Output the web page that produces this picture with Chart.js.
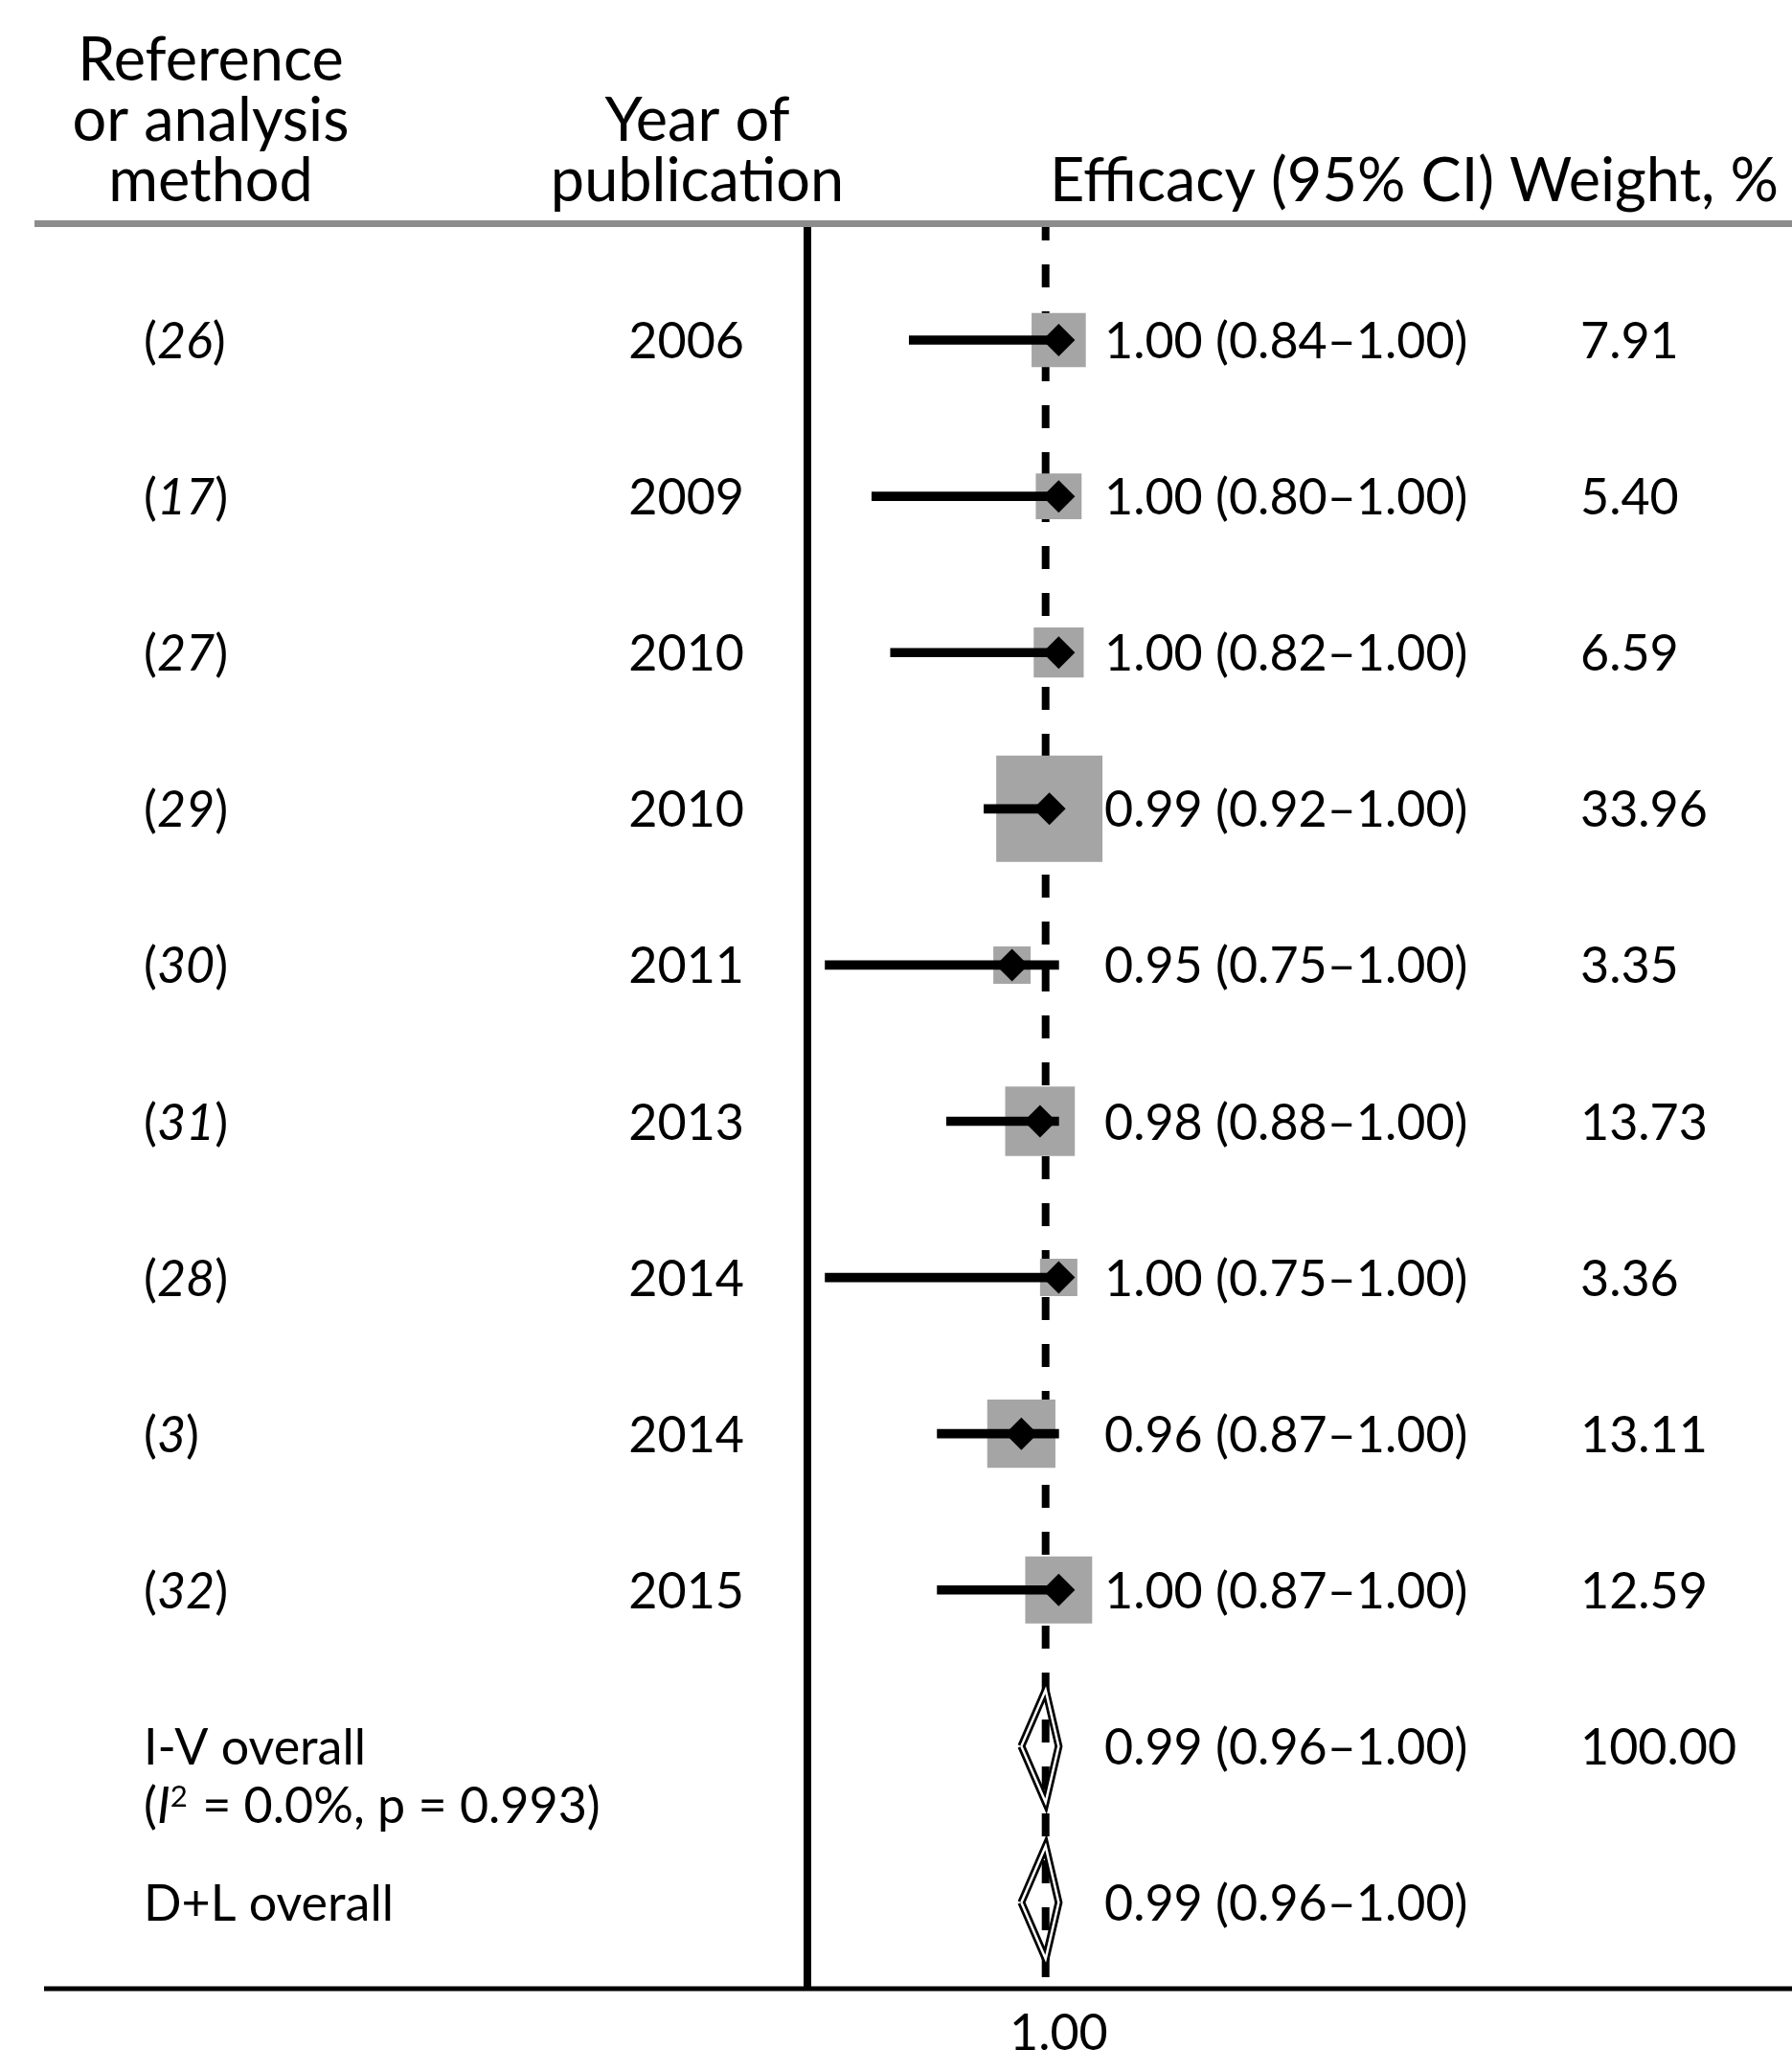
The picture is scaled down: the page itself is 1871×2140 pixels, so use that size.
<!DOCTYPE html>
<html>
<head>
<meta charset="utf-8">
<script src="https://cdn.jsdelivr.net/npm/chart.js@4.4.1/dist/chart.umd.min.js"></script>
<style>
html, body { margin: 0; padding: 0; background: #ffffff; }
#wrap { width: 1871px; height: 2140px; position: relative; }
</style>
</head>
<body>
<div id="wrap"><canvas id="c"></canvas></div>
<script>
// ---------------- data ----------------
const refNumbers   = ['26', '17', '27', '29', '30', '31', '28', '3', '32'];
const pubYears     = ['2006', '2009', '2010', '2010', '2011', '2013', '2014', '2014', '2015'];
const efficacy     = [1.00, 1.00, 1.00, 0.99, 0.95, 0.98, 1.00, 0.96, 1.00];
const ciLower      = [0.84, 0.80, 0.82, 0.92, 0.75, 0.88, 0.75, 0.87, 0.87];
const ciUpper      = [1.00, 1.00, 1.00, 1.00, 1.00, 1.00, 1.00, 1.00, 1.00];
const weightPct    = [7.91, 5.40, 6.59, 33.96, 3.35, 13.73, 3.36, 13.11, 12.59];
const pooledMethods  = ['I-V overall', 'D+L overall'];
const pooledEfficacy = [0.986, 0.986];
const pooledLower    = [0.96, 0.96];
const pooledUpper    = [1.00, 1.00];
const pooledWeight   = [100.00, null];
const heteroI2 = 0.0;
const heteroP  = 0.993;
const xTickValues = [1.00];
const headerRef    = ['Reference', 'or analysis', 'method'];
const headerYear   = ['Year of', 'publication'];
const headerEff    = 'Efficacy (95% CI)';
const headerWeight = 'Weight, %';

// ---------------- styling constants ----------------
const FONT = 'Lato';
const ROW_SIZE = 52;
const HDR_SIZE = 63;
const X_MIN = 0.731, X_MAX = 1.785;
const Y_MIN = -0.736, Y_MAX = 10.552;
const DIAMOND_HALF = 0.36;            // half-height of pooled diamonds (row units)
const boxSide = w => 6 + 18 * Math.sqrt(w);   // weight box side in px
const nStudies = efficacy.length;
const pooledRow = j => nStudies + j;

// ---------------- datasets ----------------
const datasets = [];
// dashed line at pooled estimate
datasets.push({
  type: 'scatter', showLine: true,
  data: [{ x: pooledEfficacy[0], y: Y_MIN }, { x: pooledEfficacy[0], y: Y_MAX }],
  borderColor: '#000', borderWidth: 8, borderDash: [24, 25], borderDashOffset: 8,
  borderCapStyle: 'butt', pointRadius: 0, order: 10
});
// weight boxes
datasets.push({
  type: 'scatter',
  data: efficacy.map((e, i) => ({ x: e, y: i })),
  pointStyle: 'rect',
  pointRadius: c => boxSide(weightPct[c.dataIndex]) / Math.SQRT2,
  backgroundColor: '#a5a5a5', borderWidth: 0, order: 5
});
// confidence intervals
datasets.push({
  type: 'bar', indexAxis: 'y',
  data: efficacy.map((e, i) => ({ x: [ciLower[i], ciUpper[i]], y: i })),
  backgroundColor: '#000', borderWidth: 0, barThickness: 9, order: 3
});
// point estimates
datasets.push({
  type: 'scatter',
  data: efficacy.map((e, i) => ({ x: e, y: i })),
  pointStyle: 'rectRot', pointRadius: 17,
  backgroundColor: '#000', borderWidth: 0, order: 1
});
// pooled diamonds
pooledMethods.forEach((m, j) => {
  const r = pooledRow(j);
  const poly = [
    { x: pooledLower[j], y: r },
    { x: pooledEfficacy[j], y: r - DIAMOND_HALF },
    { x: pooledUpper[j], y: r },
    { x: pooledEfficacy[j], y: r + DIAMOND_HALF },
    { x: pooledLower[j], y: r }
  ];
  datasets.push({ type: 'scatter', showLine: true, data: poly, borderColor: '#000',
    borderWidth: 8, borderJoinStyle: 'miter', pointRadius: 0, order: 2 });
  datasets.push({ type: 'scatter', showLine: true, data: poly, borderColor: '#fff',
    borderWidth: 2.5, borderJoinStyle: 'miter', pointRadius: 0, order: 1.5 });
});

// ---------------- text table plugin ----------------
function drawRich(ctx, segs, x, y, size) {
  let cx = x;
  segs.forEach(s => {
    const sz = s.sup ? size * 0.6 : size;
    ctx.font = `${s.italic ? 'italic ' : ''}${sz}px ${FONT}`;
    ctx.fillText(s.text, cx, y - (s.sup ? size * 0.33 : 0));
    cx += ctx.measureText(s.text).width + (s.sup ? 2 : 0);
  });
}
const ciText = (e, l, u) => `${e.toFixed(2)} (${l.toFixed(2)}\u2013${u.toFixed(2)})`;

const tablePlugin = {
  id: 'forestTable',
  afterDraw(chart) {
    const ctx = chart.ctx, ys = chart.scales.y, W = chart.width;
    const area = chart.chartArea;
    ctx.save();
    // rules
    ctx.fillStyle = '#8c8c8c';
    ctx.fillRect(36, area.top - 5, W - 36, 7);
    ctx.fillStyle = '#000';
    ctx.fillRect(46, area.bottom - 2.5, W - 46, 5);
    // headers
    ctx.fillStyle = '#000';
    ctx.textBaseline = 'alphabetic';
    ctx.font = `${HDR_SIZE}px ${FONT}`;
    ctx.textAlign = 'center';
    headerRef.forEach((t, k) => ctx.fillText(t, 220, 84 + 63 * k));
    headerYear.forEach((t, k) => ctx.fillText(t, 728, 147 + 63 * k));
    ctx.textAlign = 'left';
    ctx.fillText(headerEff, 1096, 210);
    ctx.fillText(headerWeight, 1576, 210);
    // study rows
    const base = r => ys.getPixelForValue(r) + 19;
    refNumbers.forEach((ref, i) => {
      const yb = base(i);
      ctx.textAlign = 'left';
      drawRich(ctx, [{ text: '(' }, { text: ref, italic: true }, { text: ')' }], 150, yb, ROW_SIZE);
      ctx.font = `${ROW_SIZE}px ${FONT}`;
      ctx.textAlign = 'right';
      ctx.fillText(pubYears[i], 777, yb);
      ctx.textAlign = 'left';
      ctx.fillText(ciText(efficacy[i], ciLower[i], ciUpper[i]), 1153, yb);
      ctx.fillText(weightPct[i].toFixed(2), 1650, yb);
    });
    // pooled rows
    pooledMethods.forEach((m, j) => {
      const yb = base(pooledRow(j));
      ctx.textAlign = 'left';
      ctx.font = `${ROW_SIZE}px ${FONT}`;
      ctx.fillText(m, 150, yb);
      ctx.fillText(ciText(pooledEfficacy[j], pooledLower[j], pooledUpper[j]), 1153, yb);
      if (pooledWeight[j] !== null) ctx.fillText(pooledWeight[j].toFixed(2), 1650, yb);
      if (j === 0) {
        drawRich(ctx, [
          { text: '(' }, { text: 'I', italic: true }, { text: '2', sup: true },
          { text: ` = ${heteroI2.toFixed(1)}%, p = ${heteroP.toFixed(3)})` }
        ], 150, yb + 61, ROW_SIZE);
      }
    });
    ctx.restore();
  }
};

// ---------------- chart ----------------
new Chart(document.getElementById('c'), {
  type: 'scatter',
  data: { datasets },
  plugins: [tablePlugin],
  options: {
    responsive: true,
    maintainAspectRatio: false,
    animation: false,
    events: [],
    devicePixelRatio: 1,
    layout: { autoPadding: false, padding: { left: 843, top: 235, right: 0, bottom: 0 } },
    plugins: { legend: { display: false }, tooltip: { enabled: false }, title: { display: false } },
    scales: {
      x: {
        type: 'linear', position: 'bottom', min: X_MIN, max: X_MAX, offset: false,
        grid: { display: false, drawTicks: false, offset: false },
        border: { display: false },
        afterBuildTicks: s => { s.ticks = xTickValues.map(v => ({ value: v })); },
        afterFit: s => { s.height = 64; },
        ticks: {
          padding: 16, color: '#000', autoSkip: false, maxRotation: 0,
          font: { family: FONT, size: ROW_SIZE },
          callback: v => Number(v).toFixed(2)
        }
      },
      y: {
        type: 'linear', position: 'left', min: Y_MIN, max: Y_MAX, reverse: true, offset: false,
        grid: { display: false, drawTicks: false, offset: false },
        border: { display: true, color: '#000', width: 8 },
        ticks: { display: false },
        afterFit: s => { s.width = 0; }
      }
    }
  }
});
</script>
</body>
</html>
